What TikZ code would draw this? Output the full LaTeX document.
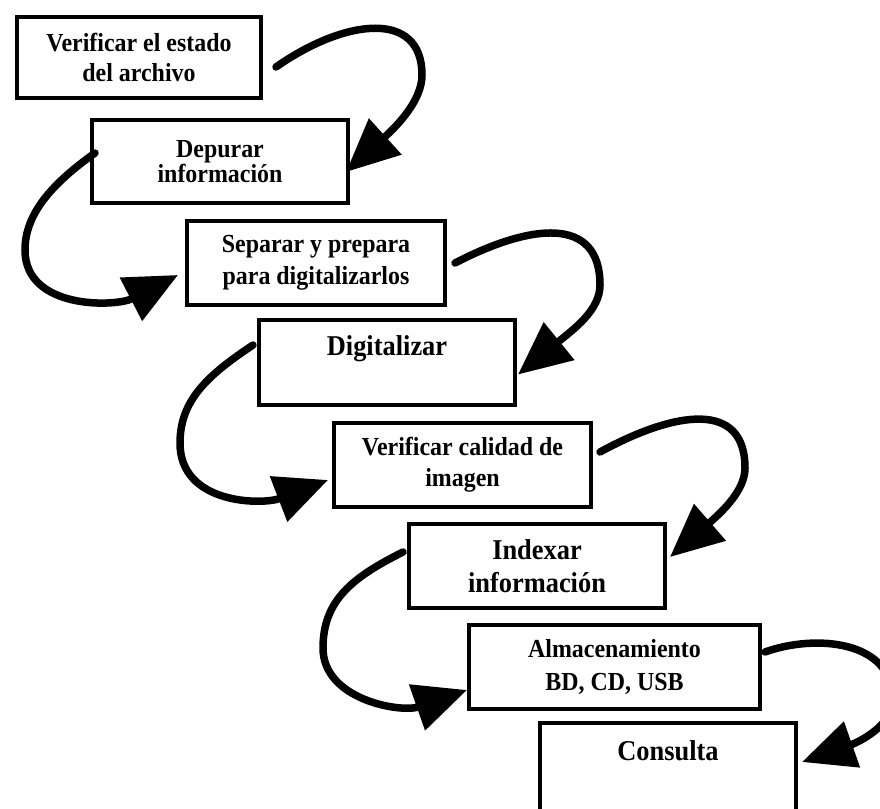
\documentclass[tikz,border=0pt]{standalone}
\usepackage{fontspec}
\setmainfont{Liberation Serif}[FakeStretch=0.92]
\usetikzlibrary{arrows.meta,calc}
\begin{document}
\begin{tikzpicture}[x=1pt,y=-1pt,
  box/.style={draw, line width=4pt, inner sep=0pt, outer sep=0pt, align=center},
  small/.style={font=\bfseries\fontsize{26}{31}\selectfont},
  big/.style={font=\bfseries\fontsize{28.7}{33}\selectfont},
  flow/.style={line width=7.5pt, line cap=round, -{Triangle[length=53pt,width=47pt]}}]
\useasboundingbox (0,0) rectangle (880,808);
\clip (0,0) rectangle (880,808);
\fill[white] (0,0) rectangle (880,808);

\node[box, font=\bfseries\fontsize{26}{30}\selectfont, minimum width=244pt, minimum height=81pt] (b1) at (139,57.5) {Verificar el estado\\del archivo};
\node[box, font=\bfseries\fontsize{26}{25}\selectfont, minimum width=256pt, minimum height=83pt] (b2) at (220,161.5) {Depurar\\información};
\node[box, font=\bfseries\fontsize{26}{32}\selectfont, minimum width=258pt, minimum height=84pt] (b3) at (316,263) {Separar y prepara\\para digitalizarlos};
\node[box, big, minimum width=256pt, minimum height=85pt] (b4) at (387,362.5) {Digitalizar\\\mbox{}};
\node[box, small, minimum width=257pt, minimum height=84pt] (b5) at (462.5,465) {Verificar calidad de\\imagen};
\node[box, big, minimum width=256pt, minimum height=84pt] (b6) at (537,566) {Indexar\\información};
\node[box, font=\bfseries\fontsize{26}{33}\selectfont, minimum width=291pt, minimum height=84pt] (b7) at (614.5,667) {Almacenamiento\\BD, CD, USB};
\node[box, big, minimum width=256pt, minimum height=88pt] (b8) at (668,767) {Consulta\\\mbox{}};

\draw[flow] ($(b1.east)+(15,9.5)$) .. controls (346,18) and (422,10) .. (422,75)
  .. controls (422,100) and (398,125) .. ($(b2.east)+(-2,10.5)$);
\draw[flow] ($(b2.west)+(3,-8.5)$) .. controls (50,185) and (25,215) .. (25,250)
  .. controls (25,310) and (116,307) .. ($(b3.west)+(-9,12)$);
\draw[flow] ($(b3.east)+(10,0)$) .. controls (530,224) and (600,215) .. (600,285)
  .. controls (600,310) and (574,329) .. ($(b4.east)+(3,12)$);
\draw[flow] ($(b4.west)+(-6,-17.5)$) .. controls (208,375) and (180,400) .. (180,443)
  .. controls (180,505) and (263,505) .. ($(b5.west)+(-6,15)$);
\draw[flow] ($(b5.east)+(9,-13)$) .. controls (675,411) and (745,400) .. (745,468)
  .. controls (745,490) and (723,511) .. ($(b6.east)+(5,-9)$);
\draw[flow] ($(b6.west)+(-6,-14)$) .. controls (353,577) and (323,600) .. (323,648)
  .. controls (323,700) and (401,713) .. ($(b7.west)+(-2,23)$);
\draw[flow] ($(b7.east)+(5,-15)$) .. controls (815,634) and (893,640) .. (893,700)
  .. controls (893,725) and (859,742) .. ($(b8.east)+(6,-5)$);
\end{tikzpicture}
\end{document}
